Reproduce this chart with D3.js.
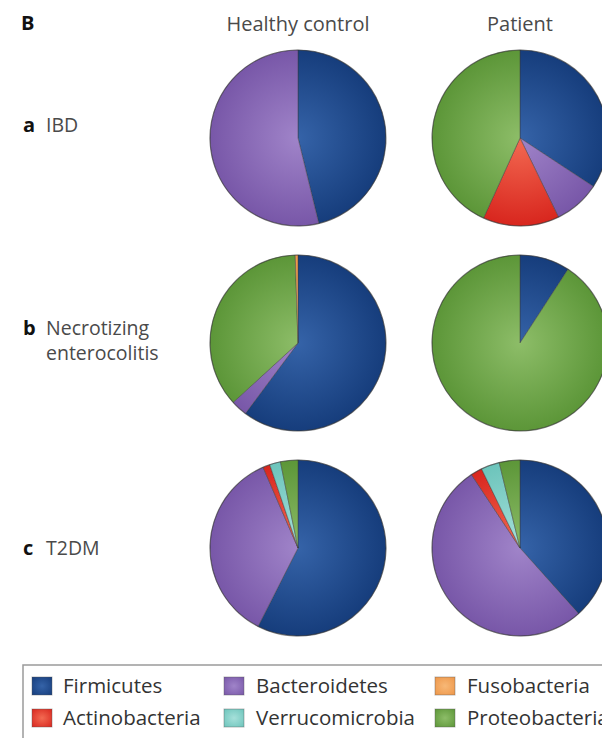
<!DOCTYPE html>
<html>
<head>
<meta charset="utf-8">
<script src="https://cdn.jsdelivr.net/npm/d3@7"></script>
<style>
  body { margin: 0; background: #fff; }
  svg text { font-family: "Open Sans", "Lato", sans-serif; }
</style>
</head>
<body>
<div id="chart"></div>
<script>
// phyla, in the clockwise order used inside each pie (from 12 o'clock)
const categories = ["Firmicutes", "Bacteroidetes", "Actinobacteria", "Verrucomicrobia", "Proteobacteria", "Fusobacteria"];
// legend order (row by row)
const legendOrder = ["Firmicutes", "Bacteroidetes", "Fusobacteria", "Actinobacteria", "Verrucomicrobia", "Proteobacteria"];
const columns = ["Healthy control", "Patient"];
const rowLetters = ["a", "b", "c"];
const rowNames = [["IBD"], ["Necrotizing", "enterocolitis"], ["T2DM"]];

// percentages, same order as categories
const ibdControl = [46.2, 53.8, 0, 0, 0, 0];
const ibdPatient = [34.3, 8.5, 14.0, 0, 43.2, 0];
const necControl = [60.2, 3.0, 0, 0, 36.3, 0.5];
const necPatient = [9.2, 0, 0, 0, 90.8, 0];
const t2dmControl = [57.5, 36.0, 1.3, 2.0, 3.2, 0];
const t2dmPatient = [38.4, 52.3, 2.1, 3.4, 3.8, 0];

const pieRows = [[ibdControl, ibdPatient], [necControl, necPatient], [t2dmControl, t2dmPatient]];

// light (centre) and dark (edge) shade for each phylum
const lightColors = ["#3563a8", "#a084c9", "#f36a52", "#a6e0da", "#8dbd68", "#f7b877"];
const darkColors = ["#163d7c", "#7857a8", "#d8261e", "#6cc4bb", "#5c9638", "#ee9648"];

const W = 602, H = 738;
const radius = 88;

const svg = d3.select("#chart").append("svg")
    .attr("width", W)
    .attr("height", H);

const color = d3.scaleOrdinal().domain(categories).range(darkColors);
const colorLight = d3.scaleOrdinal().domain(categories).range(lightColors);

// gradients: one for pies (user space, centred on pie), one for legend squares
const defs = svg.append("defs");
categories.forEach((c, i) => {
    let g = defs.append("radialGradient")
        .attr("id", `pie${i}`)
        .attr("gradientUnits", "userSpaceOnUse")
        .attr("cx", 0).attr("cy", 0).attr("r", radius);
    g.append("stop").attr("offset", "0%").attr("stop-color", colorLight(c));
    g.append("stop").attr("offset", "100%").attr("stop-color", color(c));
    let s = defs.append("radialGradient")
        .attr("id", `sw${i}`)
        .attr("cx", 0.5).attr("cy", 0.5).attr("r", 0.7);
    s.append("stop").attr("offset", "0%").attr("stop-color", colorLight(c));
    s.append("stop").attr("offset", "100%").attr("stop-color", color(c));
});

const x = d3.scalePoint().domain(columns).range([298, 520]);
const y = d3.scalePoint().domain(rowLetters).range([138, 548]);

// panel letter
svg.append("text")
    .attr("x", 21).attr("y", 30)
    .attr("font-size", 20).attr("font-weight", "bold")
    .attr("fill", "#111")
    .text("B");

// column headers
columns.forEach(c => {
    svg.append("text")
        .attr("x", x(c)).attr("y", 31)
        .attr("text-anchor", "middle")
        .attr("font-size", 20)
        .attr("fill", "#4a4a4a")
        .text(c);
});

// row labels
const labelBase = [132, 335, 555];
rowLetters.forEach((l, i) => {
    svg.append("text")
        .attr("x", 23).attr("y", labelBase[i])
        .attr("font-size", 20).attr("font-weight", "bold")
        .attr("fill", "#111")
        .text(l);
    rowNames[i].forEach((n, k) => {
        svg.append("text")
            .attr("x", 46).attr("y", labelBase[i] + k * 25)
            .attr("font-size", 19.5)
            .attr("fill", "#4a4a4a")
            .text(n);
    });
});

const pie = d3.pie().sort(null).value(d => d);
const arc = d3.arc().innerRadius(0).outerRadius(radius);

pieRows.forEach((row, i) => {
    row.forEach((vals, j) => {
        const g = svg.append("g")
            .attr("transform", `translate(${x(columns[j])},${y(rowLetters[i])})`);
        g.selectAll("path")
            .data(pie(vals).filter(d => d.value > 0))
            .enter()
            .append("path")
            .attr("d", arc)
            .attr("fill", d => `url(#pie${d.index})`)
            .attr("stroke", "#3a3a3a")
            .attr("stroke-opacity", 0.55)
            .attr("stroke-width", 0.8);
        g.append("circle")
            .attr("r", radius)
            .attr("fill", "none")
            .attr("stroke", "#333")
            .attr("stroke-opacity", 0.45)
            .attr("stroke-width", 1.2);
    });
});

// legend
svg.append("rect")
    .attr("x", 23).attr("y", 665)
    .attr("width", 620).attr("height", 120)
    .attr("fill", "#fff")
    .attr("stroke", "#9a9a9a")
    .attr("stroke-width", 1.5);

const legX = [32, 224, 435];
const legY = [677, 709];
legendOrder.forEach((c, k) => {
    const col = k % 3, rw = Math.floor(k / 3);
    svg.append("rect")
        .attr("x", legX[col]).attr("y", legY[rw])
        .attr("width", 20).attr("height", 18)
        .attr("fill", `url(#sw${categories.indexOf(c)})`)
        .attr("stroke", "#555")
        .attr("stroke-opacity", 0.4);
    svg.append("text")
        .attr("x", legX[col] + (col == 0 ? 31 : 32)).attr("y", legY[rw] + 16)
        .attr("font-size", 20.5)
        .attr("fill", "#333")
        .text(c);
});
</script>
</body>
</html>
